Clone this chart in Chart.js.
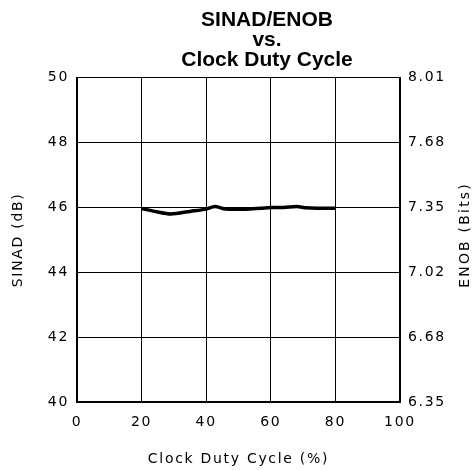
<!DOCTYPE html>
<html>
<head>
<meta charset="utf-8">
<script src="https://cdn.jsdelivr.net/npm/chart.js@4/dist/chart.umd.min.js"></script>
<style>
html,body{margin:0;padding:0;background:#fff;}
#wrap{width:472px;height:470px;}
</style>
</head>
<body>
<div id="wrap"><canvas id="c" width="472" height="470"></canvas></div>
<script>
const titleLines = ['SINAD/ENOB', 'vs.', 'Clock Duty Cycle'];
const xTitle = 'Clock Duty Cycle (%)';
const yLeftTitle = 'SINAD (dB)';
const yRightTitle = 'ENOB (Bits)';
const dutyCycle = [20, 25, 29, 35, 40, 42.7, 46, 52, 57, 60, 64, 68, 71, 75, 80];
const sinad = [45.97, 45.86, 45.80, 45.88, 45.95, 46.03, 45.95, 45.95, 45.98, 46.0, 46.0, 46.03, 45.99, 45.98, 45.98];
const sinadTicks = [40, 42, 44, 46, 48, 50];
const enobTickLabels = ['6.35', '6.68', '7.02', '7.35', '7.68', '8.01'];

const SPACING = '1.7px';
const tickFont = {family: 'DejaVu Sans', size: 14};
const points = dutyCycle.map((x, i) => ({x: x, y: sinad[i]}));

const customText = {
  id: 'customText',
  afterLayout(chart) {
    const t = chart.titleBlock;
    if (t) {
      t.left = 62; t.right = 472;
      if (!t._wrapped) {
        const orig = t.draw;
        t.draw = function (area) {
          const ctx = this.ctx;
          const ls = ctx.letterSpacing;
          ctx.letterSpacing = '0px';
          orig.call(this, area);
          ctx.letterSpacing = ls;
        };
        t._wrapped = true;
      }
    }
  },
  beforeDraw(chart) {
    chart.ctx.letterSpacing = SPACING;
  },
  afterDraw(chart) {
    const ctx = chart.ctx;
    const s = chart.scales.y2;
    ctx.save();
    ctx.letterSpacing = '2.2px';
    ctx.fillStyle = '#000';
    ctx.font = '14px "DejaVu Sans"';
    ctx.textAlign = 'center';
    ctx.textBaseline = 'middle';
    ctx.translate(s.right - 7, (chart.chartArea.top + chart.chartArea.bottom) / 2 - 5);
    ctx.rotate(-Math.PI / 2);
    ctx.fillText(yRightTitle, 0, 0);
    ctx.restore();
  }
};

new Chart(document.getElementById('c'), {
  type: 'line',
  data: {
    datasets: [{
      data: points,
      borderColor: '#000',
      borderWidth: 3.5,
      pointRadius: 0,
      tension: 0.3,
      fill: false,
      yAxisID: 'y'
    }]
  },
  options: {
    responsive: false,
    animation: false,
    devicePixelRatio: 1,
    layout: {padding: 0},
    plugins: {
      legend: {display: false},
      tooltip: {enabled: false},
      title: {
        display: true,
        text: titleLines,
        color: '#000',
        font: {family: 'Liberation Sans', size: 21, weight: 'bold', lineHeight: 0.95},
        padding: {top: 10, bottom: 8}
      }
    },
    scales: {
      x: {
        type: 'linear',
        min: 0, max: 100,
        ticks: {stepSize: 20, color: '#000', font: tickFont, padding: 12, maxRotation: 0},
        grid: {color: '#000', lineWidth: 1, drawTicks: false},
        border: {color: '#000', width: 2},
        title: {display: true, text: xTitle, color: '#000', font: {family: 'DejaVu Sans', size: 14, lineHeight: 1.2}, padding: {top: 0, bottom: 2}},
        afterFit(s) { s.height = 68; }
      },
      y: {
        position: 'left',
        min: 40, max: 50,
        afterBuildTicks(s) { s.ticks = sinadTicks.map(v => ({value: v})); },
        ticks: {color: '#000', font: tickFont, padding: 8},
        grid: {color: '#000', lineWidth: 1, drawTicks: false},
        border: {color: '#000', width: 2},
        title: {display: true, text: yLeftTitle, color: '#000', font: {family: 'DejaVu Sans', size: 14, lineHeight: 1.2}, padding: {top: 10, bottom: 0}},
        afterFit(s) { s.width = 77; }
      },
      y2: {
        position: 'right',
        min: 40, max: 50,
        afterBuildTicks(s) { s.ticks = sinadTicks.map(v => ({value: v})); },
        ticks: {color: '#000', font: tickFont, padding: 8,
          callback: (v) => { const i = sinadTicks.indexOf(v); return i >= 0 ? enobTickLabels[i] : ''; }},
        grid: {display: false, drawTicks: false},
        border: {color: '#000', width: 2},
        title: {display: false},
        afterFit(s) { s.width = 72; }
      }
    }
  },
  plugins: [customText]
});
</script>
</body>
</html>
